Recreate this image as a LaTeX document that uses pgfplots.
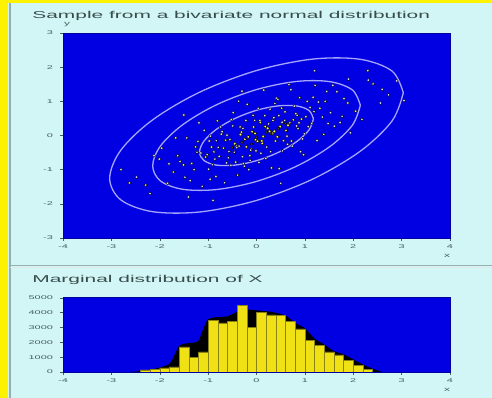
\documentclass[border=0pt]{standalone}
\usepackage{fontspec}
\setmainfont{Liberation Sans}
\usepackage{pgfplots}
\pgfplotsset{compat=1.18}
\definecolor{bgcyan}{RGB}{210,246,246}
\definecolor{axisblue}{RGB}{0,0,226}
\definecolor{ellcol}{RGB}{165,165,255}
\definecolor{ptcol}{RGB}{225,225,255}
\definecolor{ticktext}{RGB}{70,95,95}
\definecolor{sepgray}{RGB}{150,175,175}
\definecolor{baryellow}{RGB}{240,225,20}
\definecolor{baredge}{RGB}{140,130,20}
\pgfplotsset{
  common/.style={
    scale only axis,
    xmin=-4, xmax=4,
    xtick={-4,...,4},
    axis background/.style={fill=axisblue},
    axis line style={draw=axisblue!70!black},
    tick align=outside,
    major tick length=3bp,
    tick style={draw=ticktext, line width=0.4bp},
    xtick pos=bottom, ytick pos=left,
    tick label style={font=\fontsize{5.5}{6}\selectfont, xscale=2, text=ticktext},
    /pgf/number format/assume math mode=true,
    /pgf/number format/1000 sep={},
    scaled ticks=false,
  }
}
\begin{document}
\begin{tikzpicture}
\useasboundingbox (0,0) rectangle (492bp,398bp);
\fill[bgcyan] (0,0) rectangle (492bp,398bp);
\fill[yellow] (0,0) rectangle (8bp,398bp);
\fill[yellow] (0,395bp) rectangle (492bp,398bp);
\draw[sepgray, line width=2bp] (10bp,0) -- (10bp,395bp);
\draw[sepgray, line width=1.6bp] (10bp,132.5bp) -- (492bp,132.5bp);
\draw[white!70!sepgray, line width=0.8bp] (10bp,130.5bp) -- (492bp,130.5bp);

\begin{axis}[common,
  at={(63bp,160bp)}, anchor=south west,
  width=387bp, height=205bp,
  ymin=-3, ymax=3, ytick={-3,...,3}]
% contours (50%, 90%, 99%)
\addplot[ellcol, line width=1.3bp, smooth, tension=0.55] coordinates {
(3.035,1.252) (2.804,1.884) (2.146,2.230) (1.161,2.236) (0,1.901) (-1.161,1.277)
(-2.146,0.459) (-2.804,-0.429) (-3.035,-1.252) (-2.804,-1.884) (-2.146,-2.230)
(-1.161,-2.236) (0,-1.901) (1.161,-1.277) (2.146,-0.459) (2.804,0.429) (3.035,1.252)};
\addplot[ellcol, line width=1.3bp, smooth, tension=0.55] coordinates {
(2.146,0.885) (1.983,1.332) (1.517,1.576) (0.821,1.581) (0,1.344) (-0.821,0.903)
(-1.517,0.324) (-1.983,-0.303) (-2.146,-0.885) (-1.983,-1.332) (-1.517,-1.576)
(-0.821,-1.581) (0,-1.344) (0.821,-0.903) (1.517,-0.324) (1.983,0.303) (2.146,0.885)};
\addplot[ellcol, line width=1.3bp, smooth, tension=0.55] coordinates {
(1.177,0.486) (1.087,0.731) (0.832,0.865) (0.450,0.867) (0,0.737) (-0.450,0.495)
(-0.832,0.178) (-1.087,-0.166) (-1.177,-0.486) (-1.087,-0.731) (-0.832,-0.865)
(-0.450,-0.867) (0,-0.737) (0.450,-0.495) (0.832,-0.178) (1.087,0.166) (1.177,0.486)};
% sample
\addplot[only marks, mark=*, mark size=1.5bp, mark options={fill=ptcol, draw=none}] coordinates {
(0.12,-0.23) (-0.83,-0.15) (1.42,1.00) (-0.27,-0.82) (0.65,0.30) (-1.51,-0.86)
(0.38,0.94) (-0.04,0.44) (2.05,0.71) (-0.62,-0.80) (0.91,-0.47) (-1.08,0.15)
(0.23,0.21) (-0.45,-0.24) (1.17,1.12) (-2.12,-0.59) (0.56,-0.15) (-0.19,0.91)
(1.73,0.38) (-0.96,-1.28) (0.02,-0.17) (-0.71,0.11) (0.84,0.59) (-1.29,-1.00)
(0.47,-0.97) (-0.33,0.03) (1.36,0.54) (-1.84,-1.40) (0.71,1.34) (-0.11,-0.40)
(2.41,1.51) (-0.52,0.47) (0.29,-0.47) (-1.63,-0.59) (1.02,0.55) (-0.88,-0.48)
(0.15,1.33) (-0.39,-1.16) (1.58,1.47) (-1.21,-0.17) (0.61,0.15) (-0.07,0.59)
(0.95,-0.10) (-2.48,-1.22) (0.34,0.44) (-0.58,-0.65) (1.89,0.95) (-0.24,-0.11)
(0.78,0.86) (-1.37,-1.32) (0.08,0.38) (-0.93,-0.34) (1.25,-0.15) (-0.14,-0.59)
(0.43,-0.04) (-1.96,-0.37) (0.69,0.37) (-0.48,0.67) (2.73,1.19) (-0.77,-0.61)
(0.19,-0.67) (-0.31,0.10) (1.11,0.82) (-1.15,-0.51) (0.52,0.80) (-0.01,-0.45)
(1.48,0.35) (-0.66,-1.38) (0.86,0.20) (-1.44,-0.07) (0.27,0.12) (-0.21,-0.33)
(1.66,1.28) (-0.99,-0.99) (0.41,1.09) (-0.36,-0.31) (0.99,0.05) (-2.29,-1.45)
(0.58,0.44) (-0.55,-0.12) (0.05,-0.79) (1.31,0.80) (-1.72,-1.07) (0.74,-0.31)
(-0.09,0.11) (-0.81,0.43) (2.18,0.47) (0.33,0.06) (-1.05,-0.63) (0.89,1.11)
(-0.43,-0.78) (0.17,0.58) (-1.26,-0.33) (1.53,0.67) (-0.28,0.21) (0.63,-0.02)
(-0.68,-0.37) (3.05,1.02) (-0.16,-1.00) (0.46,0.58) (-1.58,-0.76) (1.07,0.26)
(-0.49,0.28) (0.21,-0.34) (-0.86,-0.69) (1.21,1.47) (-0.03,0.06) (0.54,-0.45)
(-2.01,-0.69) (0.81,0.64) (-0.37,1.00) (1.94,0.08) (-1.12,-1.49) (0.37,0.12)
(-0.61,0.01) (0.11,-0.16) (1.39,0.03) (-0.74,0.25) (0.67,1.49) (-1.34,-0.82)
(0.25,0.34) (-0.12,-0.43) (0.93,0.48) (-0.95,-0.02) (1.81,1.08) (-0.25,-0.90)
(0.49,0.26) (-1.67,-0.07) (0.72,-0.16) (-0.42,-0.31) (2.31,1.62) (-0.06,0.25)
(0.31,-0.95) (-0.79,-0.35) (1.14,0.35) (-1.19,0.37) (0.59,0.69) (-0.53,-0.87)
(0.04,0.79) (1.61,0.27) (-2.63,-1.39) (0.76,0.46) (-0.34,0.25) (0.14,-0.03)
(-0.91,-0.85) (1.28,0.98) (-0.17,-0.04) (0.39,-0.16) (-1.48,-1.22) (0.97,-0.56)
(-0.64,-0.14) (0.09,-0.52) (1.45,1.29) (-0.22,0.44) (0.53,0.39) (-1.02,-0.56)
(0.28,0.77) (-0.46,-0.49) (2.56,0.95) (-0.84,-1.20) (0.83,0.28) (-0.29,-0.62)
(0.18,0.26) (-1.23,-0.49) (1.05,1.00) (-0.57,-0.47) (0.44,1.06) (-0.02,-0.12)
(1.77,0.56) (-1.81,-0.83) (0.64,-0.26) (-0.73,0.04) (0.36,0.52) (-0.13,-0.73)
(1.19,0.70) (-0.98,-0.16) (0.07,0.44) (-0.41,-0.35) (0.88,0.37) (-1.41,-1.80)
(2.30,1.90) (-2.80,-1.00) (1.20,1.90) (-1.50,0.60) (2.90,1.60) (-0.90,-1.90) (0.50,-1.40)
(2.60,1.35) (-2.20,-1.70) (1.90,1.65) (-0.30,1.30)};
\addplot[only marks, mark=*, mark size=1.6bp, mark options={fill=yellow!55!white, draw=none}] coordinates {
(0.12,-0.23) (0.65,0.30) (0.23,0.21) (-0.45,-0.24) (0.02,-0.17) (-0.33,0.03)
(0.61,0.15) (-0.24,-0.11) (0.08,0.38) (0.43,-0.04) (0.27,0.12) (-0.21,-0.33)
(-0.09,0.11) (0.33,0.06) (-0.03,0.06) (0.37,0.12) (0.11,-0.16) (0.14,-0.03)
(-0.17,-0.04) (0.18,0.26) (-0.02,-0.12) (0.49,0.26)};
\addplot[only marks, mark=*, mark size=1.4bp, mark options={fill=black!80!yellow, draw=none}] coordinates {
(-0.10,-0.25) (0.30,0.05) (0.00,-0.05) (-0.30,-0.20) (0.45,0.20) (0.20,0.10) (-0.50,-0.35) (0.60,0.35)};
\end{axis}

\begin{axis}[common,
  at={(63bp,26bp)}, anchor=south west,
  width=387bp, height=75bp,
  ymin=0, ymax=5050, ytick={0,1000,...,5000}]
\addplot[fill=black, draw=none, smooth, tension=0.4] coordinates {
(-2.6,0) (-2.2,150) (-1.8,550) (-1.6,1750) (-1.4,1950) (-1.2,2100) (-1.0,3550) (-0.6,3750)
(-0.3,4200) (0.0,4150) (0.3,4050) (0.6,3800) (0.8,3300) (1.0,2950) (1.2,2250) (1.4,1850)
(1.6,1400) (1.8,1200) (2.0,850) (2.2,500) (2.4,220) (2.6,0)} \closedcycle;
\addplot[ybar interval, fill=baryellow, draw=baredge, line width=0.4bp] coordinates {
(-2.4,135) (-2.2,200) (-2.0,270) (-1.8,340) (-1.6,1700) (-1.4,1000) (-1.2,1350)
(-1.0,3500) (-0.8,3300) (-0.6,3400) (-0.4,4500) (-0.2,3000) (0.0,4000) (0.2,3850)
(0.4,3800) (0.6,3400) (0.8,2900) (1.0,2150) (1.2,1800) (1.4,1350) (1.6,1150)
(1.8,800) (2.0,450) (2.2,200) (2.4,0)};
\end{axis}

\node[anchor=west, xscale=2.1, text=ticktext!80!black, font=\fontsize{10}{12}\selectfont] at (25bp,382.5bp) {Sample from a bivariate normal distribution};
\node[anchor=west, xscale=2.1, text=ticktext!80!black, font=\fontsize{10}{12}\selectfont] at (25bp,118bp) {Marginal distribution of X};
\node[xscale=2, text=ticktext, font=\fontsize{6}{7}\selectfont] at (447bp,142bp) {x};
\node[xscale=2, text=ticktext, font=\fontsize{6}{7}\selectfont] at (447bp,8bp) {x};
\node[xscale=2, text=ticktext, font=\fontsize{6}{7}\selectfont] at (67bp,373bp) {y};
\end{tikzpicture}
\end{document}
